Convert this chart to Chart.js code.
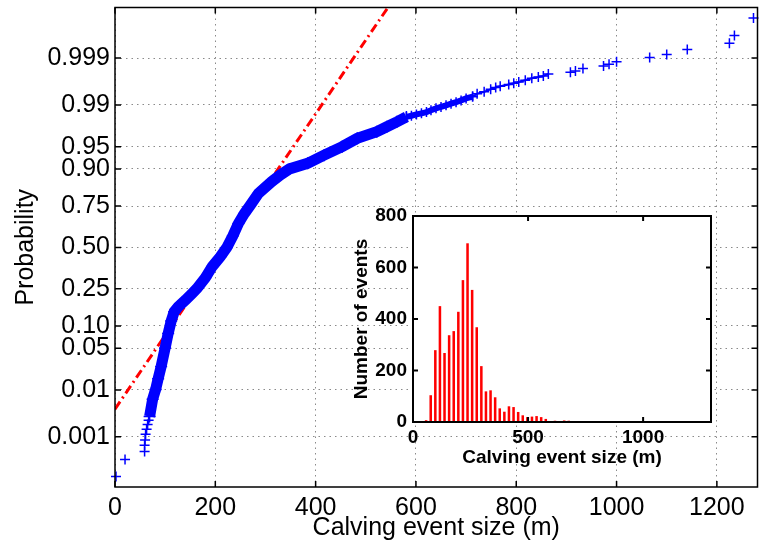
<!DOCTYPE html>
<html>
<head>
<meta charset="utf-8">
<script src="https://cdn.jsdelivr.net/npm/chart.js@4.4.1/dist/chart.umd.min.js"></script>
<style>
  html, body { margin: 0; padding: 0; background: #fff; }
  #wrap { position: relative; width: 765px; height: 554px; overflow: hidden; }
  #main { position: absolute; left: 0; top: 0; }
  #inset { position: absolute; left: 330px; top: 196px; }
</style>
</head>
<body>
<div id="wrap">
  <canvas id="main" width="765" height="554" style="width:765px;height:554px"></canvas>
  <canvas id="inset" width="390" height="290" style="width:390px;height:290px"></canvas>
</div>
<script>
// Axe des probabilités (échelle normale) et axe des tailles
const probTicks = [0.001, 0.01, 0.05, 0.10, 0.25, 0.50, 0.75, 0.90, 0.95, 0.99, 0.999];
const probLabels = ['0.001', '0.01', '0.05', '0.10', '0.25', '0.50', '0.75', '0.90', '0.95', '0.99', '0.999'];
const probMin = 0.000046;
const probMax = 0.999955;
const sizeTicks = [0, 200, 400, 600, 800, 1000, 1200];
const sizeMax = 1281;

// Partie dense de la courbe empirique (bande épaisse)
const bandSize = [69, 75, 81, 86, 92, 100, 106, 112, 118, 126, 141, 154, 164, 180, 194, 210, 223, 235, 246, 258, 269, 286, 312, 330, 348, 384, 417, 453, 483, 522, 542, 562, 581];
const bandProb = [0.0029, 0.0066, 0.0102, 0.016, 0.026, 0.0505, 0.08, 0.115, 0.147, 0.166, 0.196, 0.227, 0.253, 0.31, 0.378, 0.44, 0.50, 0.575, 0.652, 0.71, 0.752, 0.811, 0.858, 0.882, 0.90, 0.915, 0.934, 0.95, 0.9625, 0.9706, 0.9756, 0.9798, 0.9834];

// Partie intermédiaire (croix qui se chevauchent)
const midSize = [581, 591, 601, 611, 621, 630, 640, 650, 660, 670, 680, 690, 700, 713];
const midProb = [0.9834, 0.9842, 0.9850, 0.9857, 0.9864, 0.9874, 0.9884, 0.9891, 0.9898, 0.9905, 0.9911, 0.9918, 0.9925, 0.9931];

// Partie clairsemée (croix sur un trait fin)
const sparseSize = [713, 722, 736, 749, 759, 768, 785, 795, 805, 818, 831, 844, 854, 864];
const sparseProb = [0.9931, 0.99396, 0.99446, 0.99506, 0.99547, 0.99573, 0.99609, 0.99632, 0.99653, 0.99683, 0.99711, 0.99728, 0.99744, 0.99767];

// Points isolés (queues)
const tailSize = [2, 20, 59, 59, 60, 61, 63, 65, 67, 908, 918, 933, 974, 985, 1000, 1066, 1100, 1141, 1225, 1235, 1273];
const tailProb = [0.000092, 0.00027, 0.00043, 0.00062, 0.00084, 0.00114, 0.00149, 0.00193, 0.0024, 0.99788, 0.99801, 0.99825, 0.99846, 0.99861, 0.99878, 0.99903, 0.99918, 0.99938, 0.99957, 0.99973, 0.99991];

// Droite de référence (loi normale ajustée)
const refSize = [0, 560];
const refProb = [0.00415, 0.99998];

// Histogramme en encart
const histCenters = [57, 77, 97, 117, 137, 157, 177, 197, 217, 237, 257, 277, 297, 317, 337, 357, 377, 397, 417, 437, 457, 477, 497, 517, 537, 557, 577, 597, 617, 637, 657, 677, 697, 717, 737, 757, 777];
const histCounts = [7, 104, 279, 450, 268, 337, 353, 428, 551, 694, 513, 368, 217, 119, 123, 96, 53, 40, 61, 58, 39, 26, 19, 21, 23, 19, 12, 4, 5, 4, 6, 5, 3, 1, 2, 1, 1];
const histXTicks = [0, 500, 1000];
const histYTicks = [0, 200, 400, 600, 800];
const histXMax = 1295;
const histYMax = 800;

// Quantile de la loi normale (algorithme d'Acklam)
function probit(p) {
    const a = [-39.6968302866538, 220.946098424521, -275.928510446969, 138.357751867269, -30.6647980661472, 2.50662827745924];
    const b = [-54.4760987982241, 161.585836858041, -155.698979859887, 66.8013118877197, -13.2806815528857];
    const c = [-0.00778489400243029, -0.322396458041136, -2.40075827716184, -2.54973253934373, 4.37466414146497, 2.93816398269878];
    const d = [0.00778469570904146, 0.32246712907004, 2.445134137143, 3.75440866190742];
    const pl = 0.02425;
    let q, r;
    if (p < pl) {
        q = Math.sqrt(-2 * Math.log(p));
        return (((((c[0] * q + c[1]) * q + c[2]) * q + c[3]) * q + c[4]) * q + c[5]) /
            ((((d[0] * q + d[1]) * q + d[2]) * q + d[3]) * q + 1);
    }
    if (p > 1 - pl) {
        q = Math.sqrt(-2 * Math.log(1 - p));
        return -(((((c[0] * q + c[1]) * q + c[2]) * q + c[3]) * q + c[4]) * q + c[5]) /
            ((((d[0] * q + d[1]) * q + d[2]) * q + d[3]) * q + 1);
    }
    q = p - 0.5;
    r = q * q;
    return (((((a[0] * r + a[1]) * r + a[2]) * r + a[3]) * r + a[4]) * r + a[5]) * q /
        (((((b[0] * r + b[1]) * r + b[2]) * r + b[3]) * r + b[4]) * r + 1);
}

function toPoints(sizes, probs) {
    return sizes.map((x, i) => ({ x: x, y: probit(probs[i]) }));
}

// Jeu de croix bleues, avec ou sans trait
function crossSet(label, sizes, probs, lineWidth, radius) {
    return {
        label: label,
        data: toPoints(sizes, probs),
        showLine: lineWidth > 0,
        borderColor: '#0000ff',
        borderWidth: lineWidth,
        pointStyle: 'cross',
        pointRadius: radius,
        pointBorderWidth: 1.5,
        pointBorderColor: '#0000ff',
        clip: false,
        order: 1
    };
}

// Cadre + graduations vers l'intérieur (style MATLAB)
const framePlugin = {
    id: 'frame',
    beforeDatasetsDraw(chart, args, opts) {
        if (!opts.fill) return;
        const { ctx, chartArea: a } = chart;
        ctx.save();
        ctx.fillStyle = opts.fill;
        ctx.fillRect(a.left, a.top, a.right - a.left, a.bottom - a.top);
        ctx.restore();
    },
    afterDatasetsDraw(chart, args, opts) {
        const { ctx, chartArea: a, scales } = chart;
        ctx.save();
        ctx.strokeStyle = '#000';
        ctx.lineWidth = opts.width;
        ctx.strokeRect(a.left, a.top, a.right - a.left, a.bottom - a.top);
        ctx.beginPath();
        scales.x.ticks.forEach(t => {
            const px = scales.x.getPixelForValue(t.value);
            ctx.moveTo(px, a.bottom);
            ctx.lineTo(px, a.bottom - opts.tick);
            ctx.moveTo(px, a.top);
            ctx.lineTo(px, a.top + opts.tick);
        });
        scales.y.ticks.forEach(t => {
            const py = scales.y.getPixelForValue(t.value);
            ctx.moveTo(a.left, py);
            ctx.lineTo(a.left + opts.tick, py);
            ctx.moveTo(a.right, py);
            ctx.lineTo(a.right - opts.tick, py);
        });
        ctx.stroke();
        ctx.restore();
    }
};
Chart.register(framePlugin);

const mainFont = { family: "'Liberation Sans', Arial, sans-serif", size: 25 };
const insetFont = { family: "'Liberation Sans', Arial, sans-serif", size: 19, weight: 'bold' };
const plainLabel = value => String(value);

// Graphique principal : tracé de probabilité normale
new Chart(document.getElementById('main'), {
    type: 'scatter',
    data: {
        datasets: [
            {
                label: 'ref',
                data: toPoints(refSize, refProb),
                showLine: true,
                borderColor: '#ff0000',
                borderWidth: 3,
                borderDash: [9, 4, 2, 4],
                pointRadius: 0,
                order: 2
            },
            crossSet('band', bandSize, bandProb, 11, 6),
            crossSet('mid', midSize, midProb, 6, 5),
            crossSet('sparse', sparseSize, sparseProb, 2, 5),
            crossSet('tail', tailSize, tailProb, 0, 5)
        ]
    },
    options: {
        responsive: false,
        animation: false,
        events: [],
        layout: { padding: { top: 7, right: 0, bottom: 0, left: 0 } },
        plugins: {
            legend: { display: false },
            tooltip: { enabled: false },
            frame: { width: 1.5, tick: 6 }
        },
        scales: {
            x: {
                type: 'linear',
                min: 0,
                max: sizeMax,
                afterBuildTicks: s => { s.ticks = sizeTicks.map(v => ({ value: v })); },
                afterFit: s => { s.height = 67; s.paddingLeft = 0; s.paddingRight = 0; },
                ticks: { font: mainFont, color: '#000', padding: 6, autoSkip: false, maxRotation: 0, callback: plainLabel },
                grid: { color: '#8a8a8a', lineWidth: 1, drawTicks: false },
                border: { display: false, dash: [1.5, 4] },
                title: {
                    display: true,
                    text: 'Calving event size (m)',
                    font: mainFont,
                    color: '#000',
                    padding: { top: 0, bottom: 11 }
                }
            },
            y: {
                type: 'linear',
                min: probit(probMin),
                max: probit(probMax),
                afterBuildTicks: s => { s.ticks = probTicks.map(p => ({ value: probit(p) })); },
                afterFit: s => { s.width = 115; s.paddingTop = 0; s.paddingBottom = 0; },
                ticks: {
                    font: mainFont,
                    color: '#000',
                    padding: 5,
                    autoSkip: false,
                    callback: (value, index) => probLabels[index]
                },
                grid: { color: '#8a8a8a', lineWidth: 1, drawTicks: false },
                border: { display: false, dash: [1.5, 4] },
                title: {
                    display: true,
                    text: 'Probability',
                    font: mainFont,
                    color: '#000',
                    padding: { top: 11, bottom: 0 }
                }
            }
        }
    }
});

// Encart : histogramme des tailles
new Chart(document.getElementById('inset'), {
    type: 'bar',
    data: {
        datasets: [{
            label: 'events',
            data: histCenters.map((x, i) => ({ x: x, y: histCounts[i] })),
            backgroundColor: '#ff0000',
            borderWidth: 0,
            barPercentage: 0.55,
            categoryPercentage: 1
        }]
    },
    options: {
        responsive: false,
        animation: false,
        events: [],
        layout: { padding: { top: 20, right: 9, bottom: 0, left: 0 } },
        plugins: {
            legend: { display: false },
            tooltip: { enabled: false },
            frame: { width: 2, tick: 5, fill: '#ffffff' }
        },
        scales: {
            x: {
                type: 'linear',
                offset: false,
                min: 0,
                max: histXMax,
                afterBuildTicks: s => { s.ticks = histXTicks.map(v => ({ value: v })); },
                afterFit: s => { s.height = 64; s.paddingLeft = 0; s.paddingRight = 0; },
                ticks: { font: insetFont, color: '#000', padding: 4, autoSkip: false, maxRotation: 0, callback: plainLabel },
                grid: { display: false, drawTicks: false },
                border: { display: false },
                title: {
                    display: true,
                    text: 'Calving event size (m)',
                    font: insetFont,
                    color: '#000',
                    padding: { top: 0, bottom: 17 }
                }
            },
            y: {
                type: 'linear',
                min: 0,
                max: histYMax,
                afterBuildTicks: s => { s.ticks = histYTicks.map(v => ({ value: v })); },
                afterFit: s => { s.width = 83; s.paddingTop = 0; s.paddingBottom = 0; },
                ticks: { font: insetFont, color: '#000', padding: 6, autoSkip: false, callback: plainLabel },
                grid: { display: false, drawTicks: false },
                border: { display: false },
                title: {
                    display: true,
                    text: 'Number of events',
                    font: insetFont,
                    color: '#000',
                    padding: { top: 20, bottom: 0 }
                }
            }
        }
    }
});
</script>
</body>
</html>
